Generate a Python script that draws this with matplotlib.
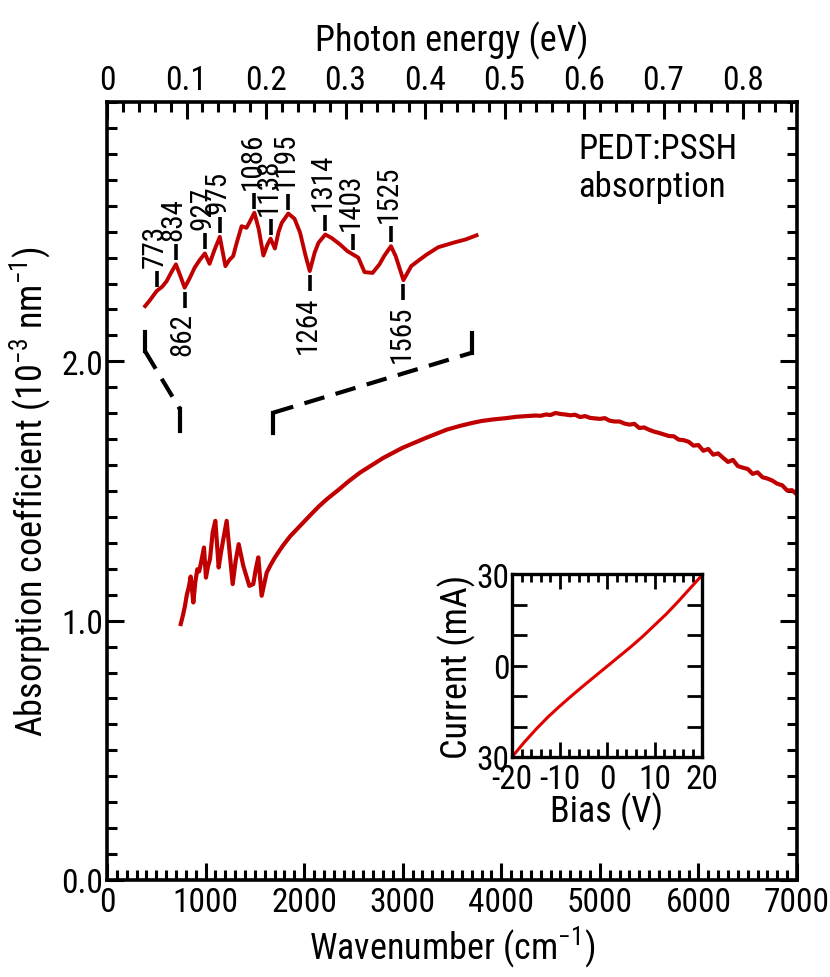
import numpy as np
import matplotlib
matplotlib.use("Agg")
import matplotlib.pyplot as plt
from matplotlib import font_manager as fm
from matplotlib.ticker import MultipleLocator, FixedLocator, FuncFormatter

# narrow sans face, first one that is installed
installed = {f.name for f in fm.fontManager.ttflist}
narrow = next(f for f in ['Liberation Sans Narrow', 'Arial Narrow', 'Roboto Condensed',
                          'Archivo Narrow', 'Liberation Sans'] if f in installed)
plt.rcParams['font.family'] = [narrow, 'DejaVu Sans']
plt.rcParams['mathtext.fontset'] = 'custom'
plt.rcParams['mathtext.rm'] = narrow
plt.rcParams['mathtext.default'] = 'regular'
plt.rcParams['axes.unicode_minus'] = False

# ---- absorption spectrum (wavenumber in cm-1, absorption in 1e-3 nm-1) ----
wn = [748, 770, 791, 810, 830, 849, 876, 896, 916, 935, 951, 984, 1004, 1025, 1045,
      1072, 1099, 1133, 1155, 1174, 1214, 1245, 1275, 1305, 1336, 1383, 1444, 1484,
      1510, 1535, 1569, 1620, 1660, 1704, 1780, 1857, 1950, 2050, 2150, 2229, 2350,
      2450, 2567, 2700, 2800, 2905, 3000, 3100, 3243, 3350, 3450, 3581, 3700, 3800,
      3919, 4050, 4150, 4258, 4350,
      4400, 4450, 4500, 4550, 4600, 4650, 4700, 4750, 4800, 4850, 4900, 4950, 5000,
      5050, 5100, 5150, 5200, 5250, 5300, 5350, 5400, 5450, 5500, 5550, 5600, 5650,
      5700, 5750, 5800, 5850, 5900, 5950, 6000, 6050, 6100, 6150, 6200, 6250, 6300,
      6350, 6400, 6450, 6500, 6550, 6600, 6650, 6700, 6750, 6800, 6850, 6900, 6950,
      7000]
absorb = [0.987, 1.020, 1.057, 1.100, 1.130, 1.170, 1.070, 1.150, 1.198, 1.190, 1.218,
          1.282, 1.166, 1.210, 1.237, 1.340, 1.385, 1.205, 1.260, 1.301, 1.385, 1.260,
          1.141, 1.230, 1.295, 1.211, 1.134, 1.141, 1.200, 1.244, 1.096, 1.185, 1.215,
          1.244, 1.287, 1.325, 1.362, 1.402, 1.441, 1.468, 1.505, 1.537, 1.571, 1.603,
          1.627, 1.648, 1.667, 1.683, 1.706, 1.722, 1.737, 1.751, 1.762, 1.770, 1.776,
          1.781, 1.786, 1.789, 1.791,
          1.790, 1.795, 1.793, 1.801, 1.797, 1.795, 1.792, 1.794, 1.785, 1.789, 1.782,
          1.780, 1.778, 1.781, 1.771, 1.768, 1.768, 1.760, 1.756, 1.759, 1.743, 1.745,
          1.736, 1.729, 1.724, 1.718, 1.712, 1.711, 1.698, 1.696, 1.690, 1.675, 1.677,
          1.655, 1.662, 1.640, 1.645, 1.628, 1.612, 1.620, 1.596, 1.590, 1.585, 1.566,
          1.572, 1.553, 1.548, 1.540, 1.528, 1.522, 1.502, 1.503, 1.486]

# ---- expanded view of the 700-1800 cm-1 region ----
zoom_wn = [735, 750, 772, 790, 804, 820, 834, 848, 862, 878, 894, 910, 927, 942, 958,
           975, 993, 1005, 1018, 1030, 1045, 1061, 1072, 1086, 1100, 1115, 1128, 1138,
           1152, 1164, 1174, 1195, 1215, 1233, 1250, 1264, 1280, 1292, 1314, 1335, 1361,
           1385, 1403, 1420, 1440, 1466, 1488, 1503, 1525, 1540, 1565, 1590, 1615, 1640,
           1677, 1730, 1765, 1800]
zoom_abs = [0.983, 1.005, 1.041, 1.058, 1.079, 1.115, 1.144, 1.100, 1.054, 1.090, 1.131,
            1.160, 1.186, 1.146, 1.200, 1.250, 1.137, 1.160, 1.176, 1.230, 1.291, 1.285,
            1.310, 1.343, 1.280, 1.178, 1.220, 1.243, 1.205, 1.270, 1.304, 1.340, 1.320,
            1.266, 1.180, 1.118, 1.190, 1.227, 1.259, 1.245, 1.221, 1.195, 1.182, 1.170,
            1.114, 1.111, 1.144, 1.176, 1.214, 1.176, 1.083, 1.137, 1.160, 1.182, 1.210,
            1.229, 1.240, 1.256]

peaks = [773, 834, 862, 927, 975, 1086, 1138, 1195, 1264, 1314, 1403, 1525, 1565]
peak_side = ['up', 'up', 'down', 'up', 'up', 'up', 'up', 'up', 'down', 'up', 'up', 'up', 'down']

# ---- I-V curve of the film ----
bias = [-20, -17.5, -15, -12.5, -10, -7.5, -5, -2.5, 0, 2.5, 5, 7.5, 10, 12.5, 15, 17.5, 20]
current = [-30.0, -25.3, -21.0, -17.0, -13.4, -10.0, -6.7, -3.5, -0.3, 2.9, 6.1, 9.5,
           13.2, 16.9, 21.0, 25.3, 29.6]

EV_PER_WN = 1 / 8065.54
RED = '#c00000'

fig = plt.figure(figsize=(8.3, 9.78), dpi=100)
ax = fig.add_axes([107 / 830, 1 - 881 / 978, 690 / 830, 778 / 978])

ax.plot(wn, absorb, color=RED, lw=3.0, solid_joinstyle='round')
ax.set_xlim(0, 7000)
ax.set_ylim(0, 3.0)
ax.xaxis.set_major_locator(MultipleLocator(1000))
ax.xaxis.set_minor_locator(MultipleLocator(100))
ax.yaxis.set_major_locator(FixedLocator([0, 1, 2]))
ax.yaxis.set_minor_locator(MultipleLocator(0.1))
ax.yaxis.set_major_formatter(FuncFormatter(lambda v, p: f'{v:.1f}'))
ax.tick_params(which='both', direction='in', right=True, top=False, width=2.2,
               labelsize=24)
ax.tick_params(which='major', length=12, pad=4)
ax.tick_params(which='minor', length=7)
ax.tick_params(axis='y', pad=3)
for s in ax.spines.values():
    s.set_linewidth(2.6)
ax.set_xlabel('Wavenumber (cm$^{-1}$)', fontsize=26, labelpad=4)
ax.set_ylabel('Absorption coefficient (10$^{-3}$ nm$^{-1}$)', fontsize=26, labelpad=6)

top = ax.secondary_xaxis('top', functions=(lambda x: x * EV_PER_WN,
                                           lambda e: e / EV_PER_WN))
top.xaxis.set_major_locator(MultipleLocator(0.1))
top.xaxis.set_minor_locator(MultipleLocator(0.02))
top.xaxis.set_major_formatter(FuncFormatter(lambda v, p: '0' if abs(v) < 1e-9 else f'{v:.1f}'))
top.tick_params(which='both', direction='in', width=2.2, labelsize=24)
top.tick_params(which='major', length=12, pad=4)
top.tick_params(which='minor', length=7)
top.set_xlabel('Photon energy (eV)', fontsize=26, labelpad=10)

ax.text(0.683, 0.962, 'PEDT:PSSH\nabsorption', transform=ax.transAxes,
        fontsize=25, ha='left', va='top', linespacing=1.2)

# dashed guides from the spectrum to the expanded view
dash_kw = dict(color='black', lw=3)
ax.plot([385, 385], [2.112, 2.040], **dash_kw)
ax.plot([385, 741], [2.040, 1.815], dashes=(5, 2.8), **dash_kw)
ax.plot([741, 741], [1.815, 1.731], **dash_kw)
ax.plot([1687, 1687], [1.725, 1.802], **dash_kw)
ax.plot([1687, 3700], [1.802, 2.033], dashes=(5, 2.8), **dash_kw)
ax.plot([3700, 3700], [2.033, 2.110], **dash_kw)

# expanded view drawn on its own stretched axes, same vertical scale
az = fig.add_axes(ax.get_position())
az.set_xlim(612.5, 2829.7)
az.set_ylim(-1.23, 1.77)
az.axis('off')
az.plot(zoom_wn, zoom_abs, color=RED, lw=2.8, solid_joinstyle='round')

px = 3.0 / 778  # data units per pixel
for p, side in zip(peaks, peak_side):
    yc = np.interp(p, zoom_wn, zoom_abs)
    sign = 1 if side == 'up' else -1
    y0, y1 = yc + sign * 4 * px, yc + sign * 20 * px
    az.plot([p, p], [y0, y1], color='black', lw=2.6, solid_capstyle='butt')
    az.annotate(str(p), (p, y1), xytext=(-1.5, sign * 3), textcoords='offset points',
                rotation=90, ha='center', va='bottom' if side == 'up' else 'top',
                fontsize=21)

# I-V inset
ai = fig.add_axes([512 / 830, 1 - 758 / 978, 190 / 830, 183 / 978])
ai.plot(bias, current, color='#e00000', lw=2.2)
ai.set_xlim(-20, 20)
ai.set_ylim(-30, 30)
ai.xaxis.set_major_locator(MultipleLocator(10))
ai.xaxis.set_minor_locator(MultipleLocator(2))
ai.yaxis.set_major_locator(MultipleLocator(10))
ai.yaxis.set_major_formatter(FuncFormatter(lambda v, p: {-30: '30', 0: '0', 30: '30'}.get(int(round(v)), '')))
ai.tick_params(which='both', direction='in', top=True, right=True, width=2.0,
               labelsize=24)
ai.tick_params(which='major', length=11, pad=4)
ai.tick_params(which='minor', length=6)
ai.tick_params(axis='y', pad=2)
for s in ai.spines.values():
    s.set_linewidth(2.4)
ai.set_xlabel('Bias (V)', fontsize=26, labelpad=-2)
ai.set_ylabel('Current (mA)', fontsize=26, labelpad=0)

fig.savefig('out.png', dpi=100)
